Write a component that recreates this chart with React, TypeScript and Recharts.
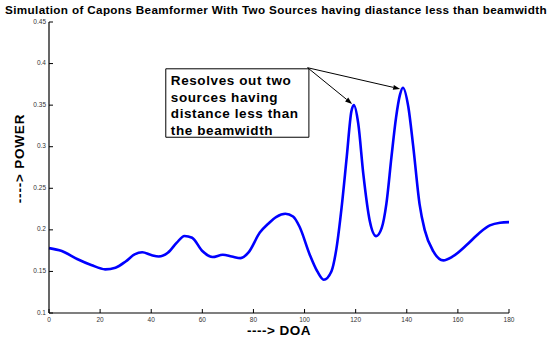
import React from "react";
import {
  LineChart,
  Line,
  XAxis,
  YAxis,
  ReferenceLine,
  ReferenceArea,
} from "recharts";

const doa = [
  0, 5, 11, 16.5, 22, 26, 30, 33.5, 36.5, 40, 43, 46.5, 50, 53, 56, 60, 64, 68,
  71.5, 75, 78, 82.5, 86, 89, 92.5, 95.5, 98, 102, 105, 107.5, 110.5, 112.5,
  114.5, 116.5, 118.3, 119.3, 121, 123, 125.5, 128, 130.2, 132, 134, 135.8,
  137.3, 138.5, 140.6, 142.5, 145, 147, 150.4, 154.3, 158, 163.5, 168.5, 172.5,
  176.5, 180,
];
const power = [
  0.178, 0.1745, 0.165, 0.1578, 0.1525, 0.1545, 0.162, 0.1705, 0.173, 0.1697,
  0.168, 0.1725, 0.1846, 0.1927, 0.1905, 0.1745, 0.1673, 0.17, 0.168, 0.166,
  0.1725, 0.1967, 0.208, 0.2157, 0.2194, 0.216, 0.204, 0.1705, 0.15, 0.14, 0.15,
  0.178, 0.227, 0.2875, 0.342, 0.35, 0.328, 0.267, 0.211, 0.1925, 0.2024, 0.231,
  0.2875, 0.335, 0.362, 0.371, 0.348, 0.301, 0.231, 0.2, 0.174, 0.1633, 0.168,
  0.182, 0.1965, 0.2053, 0.2086, 0.2093,
];
const xTicks = [0, 20, 40, 60, 80, 100, 120, 140, 160, 180];
const yTicks = [0.1, 0.15, 0.2, 0.25, 0.3, 0.35, 0.4, 0.45];
const noteLines = [
  "Resolves out two",
  "sources having",
  "distance less than",
  "the beamwidth",
];
const noteBox = { x1: 45.7, x2: 101.7, y1: 0.3114, y2: 0.3937 };
const arrowFrom = { x: 101.2, y: 0.395 };
const arrowTargets = [
  { x: 118.6, y: 0.3515 },
  { x: 137.4, y: 0.3695 },
];

const data = doa.map((d, i) => ({ doa: d, power: power[i] }));

const tickFont = "'Liberation Sans', Arial, sans-serif";

const fmtY = (v: number) => String(Math.round(v * 100) / 100);

const BottomTick = (props: any) => {
  const { x, y, payload } = props;
  return (
    <g>
      <line x1={x} y1={y} x2={x} y2={y - 4} stroke="#000" strokeWidth={1} />
      <text
        x={x}
        y={y + 9}
        textAnchor="middle"
        fontSize={6.5}
        fontFamily={tickFont}
        fill="#333"
      >
        {payload.value}
      </text>
    </g>
  );
};

const TopTick = (props: any) => {
  const { x, y } = props;
  return <line x1={x} y1={y} x2={x} y2={y + 4} stroke="#000" strokeWidth={1} />;
};

const LeftTick = (props: any) => {
  const { x, y, payload } = props;
  return (
    <g>
      <line x1={x} y1={y} x2={x + 4} y2={y} stroke="#000" strokeWidth={1} />
      <text
        x={x - 3}
        y={y + 1.5}
        textAnchor="end"
        fontSize={6.5}
        fontFamily={tickFont}
        fill="#333"
      >
        {fmtY(payload.value)}
      </text>
    </g>
  );
};

const RightTick = (props: any) => {
  const { x, y } = props;
  return <line x1={x} y1={y} x2={x - 4} y2={y} stroke="#000" strokeWidth={1} />;
};

const ArrowShape = (props: any) => {
  const { x1, y1, x2, y2 } = props;
  const ang = Math.atan2(y2 - y1, x2 - x1);
  const len = 7;
  const hw = 2.5;
  const bx = x2 - len * Math.cos(ang);
  const by = y2 - len * Math.sin(ang);
  const px = -Math.sin(ang) * hw;
  const py = Math.cos(ang) * hw;
  return (
    <g>
      <line x1={x1} y1={y1} x2={bx} y2={by} stroke="#000" strokeWidth={1} />
      <polygon
        points={`${x2},${y2} ${bx + px},${by + py} ${bx - px},${by - py}`}
        fill="#000"
      />
    </g>
  );
};

const NoteLabel = (props: any) => {
  const vb = props.viewBox || {};
  const x = vb.x + 5;
  const y0 = vb.y + 16;
  return (
    <g>
      {noteLines.map((t, i) => (
        <text
          key={i}
          x={x}
          y={y0 + i * 16.7}
          fontSize={13.5}
          fontWeight="bold"
          letterSpacing={0.6}
          fontFamily={tickFont}
          fill="#000"
        >
          {t}
        </text>
      ))}
    </g>
  );
};

const YLabel = (props: any) => {
  const vb = props.viewBox || {};
  const cx = 19.5;
  const cy = vb.y + vb.height / 2 - 9;
  return (
    <text
      x={cx}
      y={cy}
      transform={`rotate(-90 ${cx} ${cy})`}
      textAnchor="middle"
      dominantBaseline="central"
      fontSize={13.5}
      fontWeight="bold"
      letterSpacing={0.8}
      fontFamily={tickFont}
      fill="#000"
    >
      ----&gt; POWER
    </text>
  );
};

export default function App() {
  return (
    <div
      style={{
        position: "absolute",
        left: 0,
        top: 0,
        width: 552,
        height: 340,
        background: "#fff",
      }}
    >
      <div
        style={{
          position: "absolute",
          left: 0,
          top: 3,
          width: 552,
          textAlign: "center",
          fontFamily: tickFont,
          fontWeight: "bold",
          fontSize: 11.7,
          letterSpacing: 0.35,
          lineHeight: "14px",
          whiteSpace: "nowrap",
          color: "#000",
        }}
      >
        Simulation of Capons Beamformer With Two Sources having diastance less
        than beamwidth
      </div>
      <LineChart
        width={552}
        height={340}
        data={data}
        margin={{ top: 22, right: 43, bottom: 0, left: 0 }}
        style={{ position: "absolute", left: 0, top: 0 }}
      >
        <XAxis
          dataKey="doa"
          type="number"
          domain={[0, 180]}
          ticks={xTicks}
          interval={0}
          height={27}
          tickSize={0}
          tickMargin={0}
          tickLine={false}
          axisLine={{ stroke: "#000", strokeWidth: 1.2 }}
          tick={<BottomTick />}
          label={{
            value: "----> DOA",
            position: "insideBottom",
            offset: 5,
            style: {
              fontFamily: tickFont,
              fontWeight: "bold",
              fontSize: 13.5,
              letterSpacing: 0.5,
              fill: "#000",
            },
          }}
        />
        <XAxis
          xAxisId="top"
          dataKey="doa"
          type="number"
          orientation="top"
          domain={[0, 180]}
          ticks={xTicks}
          interval={0}
          height={0}
          tickSize={0}
          tickMargin={0}
          tickLine={false}
          axisLine={{ stroke: "#000", strokeWidth: 1.2 }}
          tick={<TopTick />}
        />
        <YAxis
          type="number"
          domain={[0.1, 0.45]}
          ticks={yTicks}
          interval={0}
          width={49}
          tickSize={0}
          tickMargin={0}
          tickLine={false}
          axisLine={{ stroke: "#000", strokeWidth: 1.2 }}
          tick={<LeftTick />}
          label={{ content: (p: any) => <YLabel {...p} /> } as any}
        />
        <YAxis
          yAxisId="right"
          type="number"
          orientation="right"
          domain={[0.1, 0.45]}
          ticks={yTicks}
          interval={0}
          width={0}
          tickSize={0}
          tickMargin={0}
          tickLine={false}
          axisLine={{ stroke: "#000", strokeWidth: 1.2 }}
          tick={<RightTick />}
        />
        <Line
          type="monotone"
          dataKey="power"
          stroke="#0000ff"
          strokeWidth={2.6}
          dot={false}
          activeDot={false}
          isAnimationActive={false}
        />
        <ReferenceArea
          x1={noteBox.x1}
          x2={noteBox.x2}
          y1={noteBox.y1}
          y2={noteBox.y2}
          fill="#fff"
          fillOpacity={1}
          stroke="#000"
          strokeWidth={1}
          label={(p: any) => <NoteLabel {...p} />}
        />
        {arrowTargets.map((t, i) => (
          <ReferenceLine
            key={i}
            segment={[arrowFrom, t]}
            stroke="#000"
            shape={(p: any) => <ArrowShape {...p} />}
          />
        ))}
      </LineChart>
    </div>
  );
}
